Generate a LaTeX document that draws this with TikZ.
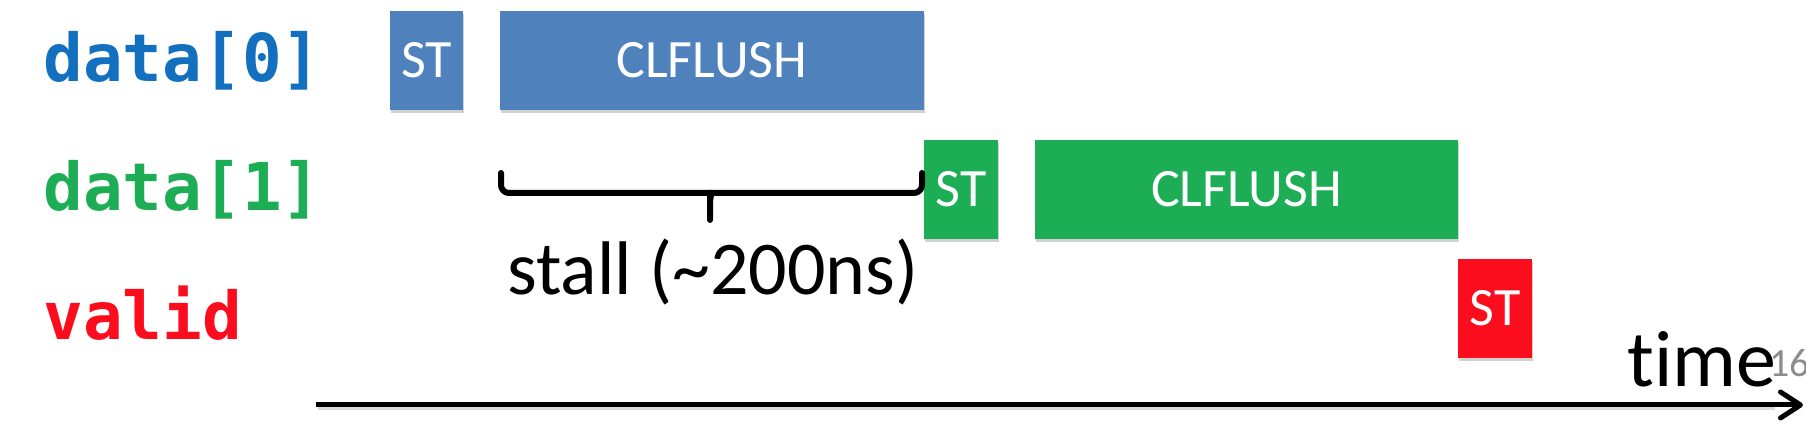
\documentclass[tikz,border=0pt]{standalone}
\usepackage{fontspec}
\setmainfont{Carlito}[Ligatures=NoCommon]
\newfontfamily\codefont{DejaVu Sans Mono}
\usetikzlibrary{arrows.meta,shadows}
\definecolor{boxblue}{RGB}{79,129,189}
\definecolor{boxgreen}{RGB}{29,174,85}
\definecolor{boxred}{RGB}{252,13,30}
\definecolor{lblblue}{RGB}{18,112,190}
\definecolor{lblgreen}{RGB}{29,174,85}
\definecolor{lblred}{RGB}{252,13,30}
\definecolor{pagegray}{RGB}{140,140,140}
\tikzset{
  opbox/.style={rectangle, inner sep=0pt, text=white,
    font=\fontsize{27}{27}\selectfont,
    minimum height=49.5pt,
    drop shadow={shadow xshift=0.6pt, shadow yshift=-1.6pt, opacity=0.3, fill=black!60}},
  lbl/.style={anchor=base west, inner sep=0pt, font=\codefont\bfseries\fontsize{33}{33}\selectfont},
  bigtext/.style={anchor=base west, inner sep=0pt},
  bracepath/.style={line width=3pt, line cap=round, line join=round, rounded corners=4pt},
}
\begin{document}
\begin{tikzpicture}[x=0.5pt,y=-0.5pt]
\useasboundingbox (0,0) rectangle (1806,432);
% labels
\node[lbl, text=lblblue]  (l0) at (43,82)  {data[0]};
\node[lbl, text=lblgreen] (l1) at (43,211) {data[1]};
\node[lbl, text=lblred]   (l2) at (43,340) {valid};
% boxes
\node[opbox, fill=boxblue,  minimum width=36.5pt]  (d0st) at (426.5,60.5)  {ST};
\node[opbox, fill=boxblue,  minimum width=212pt]   (d0cl) at (712,60.5)    {CLFLUSH};
\node[opbox, fill=boxgreen, minimum width=37pt]    (d1st) at (961,189.5)   {ST};
\node[opbox, fill=boxgreen, minimum width=211.5pt] (d1cl) at (1246.5,189.5) {CLFLUSH};
\node[opbox, fill=boxred,   minimum width=37pt]    (vst)  at (1495,308.5)  {ST};
% brace
\coordinate (bl) at (501,173);
\coordinate (br) at (922,173);
\coordinate (bt) at (710,220);
\draw[bracepath] (bl) |- (703,193) to[out=0,in=90] (710,201) -- (bt);
\draw[bracepath] (br) |- (717,193) to[out=180,in=90] (710,201);
\node[bigtext, font=\fontsize{38}{38}\selectfont] (stall) at (507,295) {stall (\textasciitilde200ns)};
% time axis
\coordinate (a0) at (316,405);
\coordinate (a1) at (1803,405);
\draw[black!25, line width=2.5pt, opacity=0.6] ([xshift=1pt,yshift=-1.5pt]a0) -- ([xshift=-14pt,yshift=-1.5pt]a1);
\draw[line width=2.5pt, -{Straight Barb[length=10pt,width=13pt,round]}] (a0) -- (a1);
\node[bigtext, font=\fontsize{40}{40}\selectfont] (time) at (1627,387) {time};
\node[bigtext, font=\fontsize{20}{20}\selectfont, text=pagegray] (pg) at (1769,377) {16};
\end{tikzpicture}
\end{document}
